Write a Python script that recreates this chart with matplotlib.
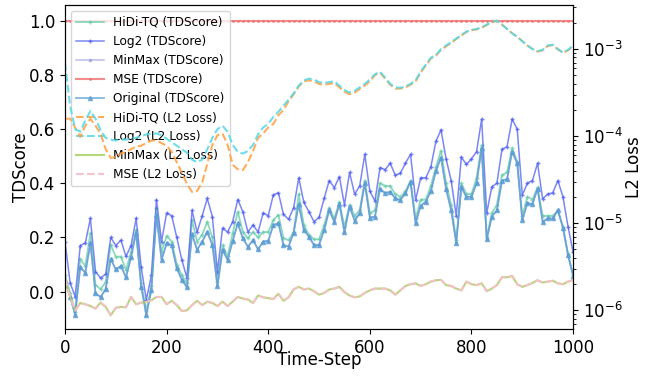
import numpy as np
import matplotlib
matplotlib.use("Agg")
import matplotlib.pyplot as plt

# time steps (one sample every 10 steps)
steps = np.arange(0, 1001, 10)

# TDScore curves (left axis)
hidi_td = [0.06, -0.005, -0.074, 0.12, 0.095, 0.215, 0.025, 0.009, 0.035, 0.172,
           0.129, 0.129, 0.08, 0.145, 0.228, 0.03, -0.07, 0.02, 0.307, 0.148,
           0.205, 0.185, 0.10, 0.06, 0.03, 0.264, 0.185, 0.21, 0.258, 0.20,
           0.037, 0.172, 0.13, 0.215, 0.295, 0.22, 0.197, 0.22, 0.20, 0.22,
           0.22, 0.264, 0.283, 0.197, 0.19, 0.22, 0.36, 0.246, 0.21, 0.193,
           0.193, 0.246, 0.31, 0.27, 0.33, 0.24, 0.32, 0.28, 0.30, 0.41,
           0.29, 0.30, 0.40, 0.39, 0.39, 0.36, 0.35, 0.37, 0.41, 0.27,
           0.34, 0.34, 0.39, 0.46, 0.52, 0.40, 0.32, 0.19, 0.40, 0.36,
           0.36, 0.42, 0.54, 0.20, 0.29, 0.32, 0.43, 0.44, 0.53, 0.48,
           0.28, 0.35, 0.34, 0.385, 0.28, 0.28, 0.28, 0.30, 0.24, 0.14,
           0.06]
log2_td = [0.185, 0.033, -0.018, 0.17, 0.18, 0.27, 0.074, 0.05, 0.065, 0.20,
           0.17, 0.19, 0.13, 0.17, 0.27, 0.09, -0.03, 0.06, 0.34, 0.185,
           0.29, 0.28, 0.20, 0.117, 0.05, 0.30, 0.22, 0.28, 0.344, 0.277,
           0.074, 0.234, 0.22, 0.258, 0.34, 0.295, 0.22, 0.246, 0.22, 0.29,
           0.28, 0.357, 0.365, 0.285, 0.267, 0.31, 0.42, 0.33, 0.295, 0.258,
           0.274, 0.344, 0.41, 0.384, 0.424, 0.32, 0.44, 0.36, 0.39, 0.507,
           0.37, 0.335, 0.458, 0.45, 0.474, 0.43, 0.437, 0.474, 0.507, 0.338,
           0.42, 0.42, 0.46, 0.555, 0.597, 0.49, 0.41, 0.28, 0.496, 0.47,
           0.49, 0.517, 0.637, 0.29, 0.387, 0.40, 0.525, 0.535, 0.637, 0.60,
           0.357, 0.40, 0.41, 0.474, 0.342, 0.36, 0.365, 0.41, 0.35, 0.24,
           0.145]
orig_td = [0.04, -0.018, -0.086, 0.09, 0.07, 0.178, -0.006, -0.02, 0.009, 0.12,
           0.082, 0.095, 0.053, 0.127, 0.218, 0.018, -0.086, 0.006, 0.283, 0.117,
           0.178, 0.172, 0.086, 0.043, 0.016, 0.213, 0.154, 0.185, 0.22, 0.172,
           0.02, 0.154, 0.117, 0.187, 0.252, 0.197, 0.166, 0.19, 0.156, 0.185,
           0.187, 0.246, 0.252, 0.172, 0.166, 0.218, 0.322, 0.228, 0.203, 0.172,
           0.172, 0.228, 0.30, 0.258, 0.323, 0.22, 0.314, 0.262, 0.29, 0.40,
           0.273, 0.277, 0.38, 0.363, 0.369, 0.344, 0.338, 0.363, 0.406, 0.252,
           0.317, 0.332, 0.37, 0.446, 0.495, 0.378, 0.30, 0.18, 0.385, 0.35,
           0.35, 0.40, 0.53, 0.193, 0.277, 0.30, 0.41, 0.415, 0.517, 0.474,
           0.264, 0.326, 0.323, 0.38, 0.258, 0.27, 0.27, 0.30, 0.236, 0.135,
           0.058]
minmax_td = list(orig_td)
mse_td = [1.0] * len(steps)

# L2 loss curves (right axis), read as log10 of the loss
hidi_l2_exp = [-3.80, -3.80, -3.90, -4.01, -3.88, -3.80, -3.88, -3.97, -4.15, -4.25,
               -4.24, -4.20, -4.18, -4.15, -4.12, -4.11, -4.08, -4.05, -4.05, -4.08,
               -4.11, -4.18, -4.30, -4.42, -4.55, -4.64, -4.63, -4.53, -4.32, -4.10,
               -3.99, -3.97, -4.10, -4.33, -4.38, -4.39, -4.30, -4.17, -4.02, -3.97,
               -3.90, -3.86, -3.76, -3.70, -3.60, -3.52, -3.43, -3.37, -3.36, -3.37,
               -3.40, -3.41, -3.40, -3.39, -3.44, -3.49, -3.52, -3.50, -3.46, -3.42,
               -3.37, -3.30, -3.27, -3.34, -3.41, -3.455, -3.455, -3.44, -3.41, -3.37,
               -3.27, -3.19, -3.11, -3.075, -3.01, -2.97, -2.93, -2.885, -2.845, -2.805,
               -2.785, -2.775, -2.755, -2.725, -2.695, -2.675, -2.72, -2.77, -2.82, -2.86,
               -2.91, -2.96, -3.00, -3.03, -3.015, -2.965, -2.955, -3.005, -3.045, -3.015,
               -2.965]
log2_l2_exp = [-3.16, -3.65, -3.92, -3.95, -3.82, -3.71, -3.80, -3.93, -4.02, -4.04,
               -4.05, -4.04, -4.04, -4.03, -4.02, -4.00, -3.98, -3.97, -3.97, -3.99,
               -4.03, -4.07, -4.11, -4.15, -4.19, -4.27, -4.30, -4.27, -4.15, -4.02,
               -3.92, -3.88, -3.95, -4.10, -4.18, -4.20, -4.17, -4.10, -3.98, -3.90,
               -3.86, -3.78, -3.72, -3.65, -3.58, -3.51, -3.42, -3.36, -3.34, -3.35,
               -3.38, -3.39, -3.38, -3.37, -3.42, -3.47, -3.50, -3.48, -3.44, -3.40,
               -3.35, -3.29, -3.26, -3.33, -3.40, -3.44, -3.445, -3.43, -3.40, -3.36,
               -3.26, -3.18, -3.10, -3.07, -3.00, -2.96, -2.92, -2.88, -2.84, -2.80,
               -2.78, -2.77, -2.75, -2.72, -2.69, -2.675, -2.72, -2.77, -2.82, -2.86,
               -2.91, -2.96, -3.00, -3.025, -3.01, -2.96, -2.95, -3.00, -3.04, -3.01,
               -2.96]
mse_l2_exp = [-5.635, -5.846, -6.0, -5.915, -5.93, -5.95, -5.98, -5.91, -5.96, -6.056,
              -5.97, -5.96, -5.965, -5.846, -5.93, -5.91, -5.905, -5.884, -5.846, -5.846,
              -5.93, -5.89, -5.94, -6.007, -6.0, -5.94, -5.89, -5.94, -5.90, -5.915,
              -5.95, -5.90, -5.95, -5.90, -5.846, -5.865, -5.875, -5.915, -5.83, -5.85,
              -5.86, -5.87, -5.81, -5.89, -5.85, -5.76, -5.73, -5.76, -5.75, -5.78,
              -5.82, -5.80, -5.76, -5.75, -5.73, -5.79, -5.83, -5.85, -5.84, -5.80,
              -5.77, -5.75, -5.75, -5.75, -5.77, -5.82, -5.77, -5.72, -5.70, -5.69,
              -5.72, -5.70, -5.67, -5.655, -5.65, -5.71, -5.72, -5.75, -5.77, -5.67,
              -5.70, -5.71, -5.69, -5.78, -5.75, -5.71, -5.62, -5.62, -5.605, -5.70,
              -5.73, -5.71, -5.685, -5.655, -5.68, -5.67, -5.66, -5.69, -5.70, -5.67,
              -5.65]
minmax_l2_exp = list(mse_l2_exp)

plt.rcParams['font.size'] = 12

fig, ax = plt.subplots(figsize=(6.52, 3.77), dpi=100)
fig.subplots_adjust(left=0.0997, right=0.879, top=0.9867, bottom=0.1273)
ax2 = ax.twinx()

l1, = ax.plot(steps, hidi_td, color='#66cdaa', marker='+', ms=3, lw=1.3, alpha=0.75, label='HiDi-TQ (TDScore)')
l2, = ax.plot(steps, log2_td, color='#4455ee', marker='+', ms=3, lw=1.1, alpha=0.7, label='Log2 (TDScore)')
l3, = ax.plot(steps, minmax_td, color='#9f9fdf', marker='s', ms=1.5, lw=1.1, alpha=0.7, label='MinMax (TDScore)')
l4, = ax.plot(steps, mse_td, color='#f07070', marker='.', ms=2, lw=1.5, alpha=0.8, label='MSE (TDScore)')
l5, = ax.plot(steps, orig_td, color='#5a9fd4', marker='^', ms=3, lw=1.3, alpha=0.75, label='Original (TDScore)')

m1, = ax2.plot(steps, np.power(10.0, hidi_l2_exp), color='#ff9f40', ls='--', lw=1.5, alpha=0.85, label='HiDi-TQ (L2 Loss)')
m2, = ax2.plot(steps, np.power(10.0, log2_l2_exp), color='#55d8e6', ls='--', lw=1.5, alpha=0.85, label='Log2 (L2 Loss)')
m3, = ax2.plot(steps, np.power(10.0, minmax_l2_exp), color='#a8d060', ls='-', lw=1.5, alpha=0.85, label='MinMax (L2 Loss)')
m4, = ax2.plot(steps, np.power(10.0, mse_l2_exp), color='#f5c0c8', ls='--', lw=1.5, alpha=0.95, label='MSE (L2 Loss)')

ax.set_xlim(0, 1000)
ax.set_ylim(-0.138, 1.058)
ax.set_xlabel('Time-Step', labelpad=-4)
ax.set_ylabel('TDScore', labelpad=-1)
ax2.set_yscale('log')
ax2.set_ylim(10 ** -6.214, 10 ** -2.495)
ax2.set_ylabel('L2 Loss', labelpad=2)

handles = [l1, l2, l3, l4, l5, m1, m2, m3, m4]
ax.legend(handles, [h.get_label() for h in handles], loc='upper left',
          fontsize=8.7, handlelength=2.3, borderaxespad=0.5)

plt.savefig('out.png', dpi=100)
